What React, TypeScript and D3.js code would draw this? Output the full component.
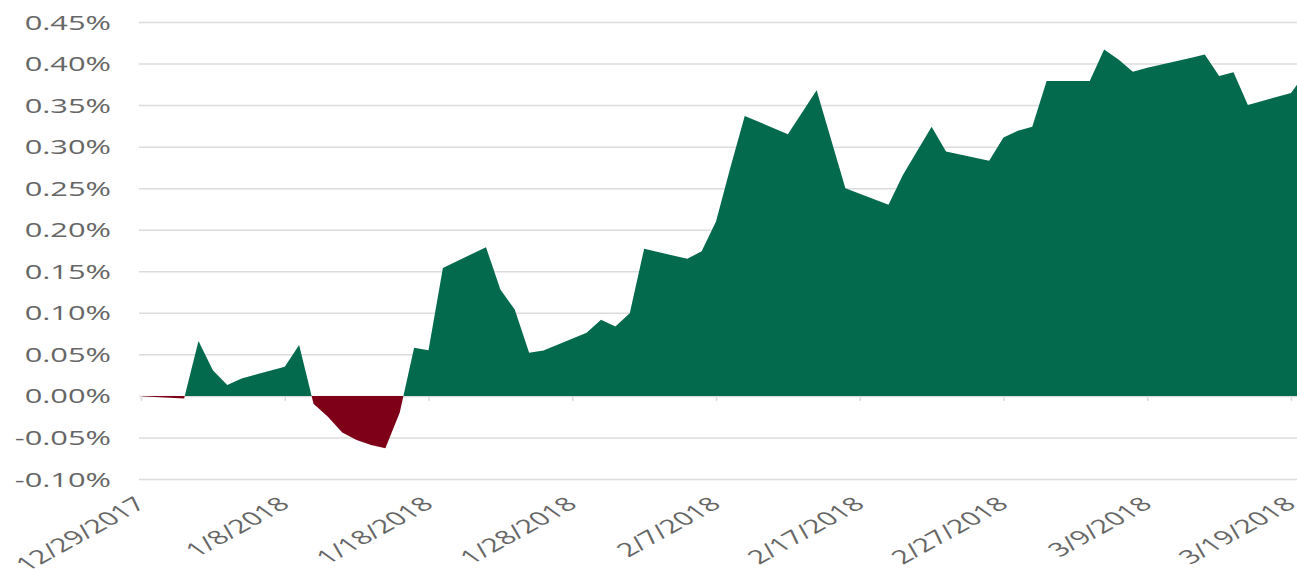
import React, { useEffect, useRef } from "react";
import * as d3 from "d3";

// Cumulative excess return (in %)
const DATES = [
  "12/29/2017", "1/1/2018", "1/2/2018", "1/3/2018", "1/4/2018", "1/5/2018",
  "1/8/2018", "1/9/2018", "1/10/2018", "1/11/2018", "1/12/2018", "1/13/2018",
  "1/14/2018", "1/15/2018", "1/16/2018", "1/17/2018", "1/18/2018", "1/19/2018",
  "1/22/2018", "1/23/2018", "1/24/2018", "1/25/2018", "1/26/2018", "1/29/2018",
  "1/30/2018", "1/31/2018", "2/1/2018", "2/2/2018", "2/5/2018", "2/6/2018",
  "2/7/2018", "2/8/2018", "2/9/2018", "2/12/2018", "2/14/2018", "2/16/2018",
  "2/19/2018", "2/20/2018", "2/22/2018", "2/23/2018", "2/26/2018", "2/27/2018",
  "2/28/2018", "3/1/2018", "3/2/2018", "3/5/2018", "3/6/2018", "3/7/2018",
  "3/8/2018", "3/9/2018", "3/12/2018", "3/13/2018", "3/14/2018", "3/15/2018",
  "3/16/2018", "3/19/2018", "3/20/2018",
];

const VALUES = [
  -0.0005, -0.003, 0.066, 0.031, 0.013, 0.021,
  0.035, 0.0614, -0.0093, -0.025, -0.044, -0.053,
  -0.059, -0.063, -0.02, 0.058, 0.055, 0.154,
  0.179, 0.128, 0.104, 0.052, 0.0546, 0.076,
  0.0916, 0.0835, 0.0996, 0.177, 0.165, 0.174,
  0.21, 0.275, 0.337, 0.315, 0.368, 0.25,
  0.23, 0.266, 0.324, 0.294, 0.283, 0.311,
  0.319, 0.324, 0.379, 0.379, 0.417, 0.405,
  0.39, 0.395, 0.4067, 0.411, 0.385, 0.3895,
  0.35, 0.3647, 0.388,
];

const X_TICKS = [
  "12/29/2017", "1/8/2018", "1/18/2018", "1/28/2018", "2/7/2018",
  "2/17/2018", "2/27/2018", "3/9/2018", "3/19/2018",
];

const Y_TICKS = [-0.1, -0.05, 0, 0.05, 0.1, 0.15, 0.2, 0.25, 0.3, 0.35, 0.4, 0.45];

const GREEN = "#036a4e";
const RED = "#7d0018";
const TEXT = "#666666";
const GRID = "#dcdcdc";

const W = 1297;
const H = 569;

export default function App() {
  const svgRef = useRef<SVGSVGElement>(null);

  useEffect(() => {
    if (!svgRef.current) return;
    const svg = d3.select(svgRef.current);
    svg.selectAll("*").remove();

    const parse = d3.timeParse("%m/%d/%Y");
    const data = DATES.map((d, i) => ({ date: parse(d) as Date, value: VALUES[i] }));

    const x = d3
      .scaleTime()
      .domain([parse("12/29/2017") as Date, parse("3/19/2018") as Date])
      .range([141, 1291]);
    const y = d3.scaleLinear().domain([-0.1, 0.45]).range([479, 22]);
    const left = 139;

    // gridlines + y labels
    const yAxis = d3
      .axisLeft(y)
      .tickValues(Y_TICKS)
      .tickSize(-(W - left))
      .tickPadding(28)
      .tickFormat((d) => `${(+d).toFixed(2)}%`);

    const gy = svg.append("g").attr("transform", `translate(${left},0)`).call(yAxis);
    gy.select(".domain").remove();
    gy.selectAll(".tick line").attr("stroke", GRID).attr("stroke-width", 1.5);
    gy.selectAll(".tick text")
      .attr("x", 0)
      .attr("dy", "0.36em")
      .attr("transform", "translate(-28,0) scale(1.58,1)")
      .attr("fill", TEXT)
      .attr("font-size", 19.5)
      .attr("font-family", "'Open Sans', sans-serif");

    // clip above / below zero
    const zeroY = y(0);
    const defs = svg.append("defs");
    defs.append("clipPath").attr("id", "above")
      .append("rect").attr("x", 0).attr("y", 0).attr("width", W).attr("height", zeroY);
    defs.append("clipPath").attr("id", "below")
      .append("rect").attr("x", 0).attr("y", zeroY).attr("width", W).attr("height", H - zeroY);

    const area = d3
      .area<{ date: Date; value: number }>()
      .x((d) => x(d.date))
      .y0(zeroY)
      .y1((d) => y(d.value));

    svg.append("path").datum(data).attr("d", area).attr("fill", GREEN).attr("clip-path", "url(#above)");
    svg.append("path").datum(data).attr("d", area).attr("fill", RED).attr("clip-path", "url(#below)");

    // x axis ticks + rotated labels
    const xAxis = d3
      .axisBottom(x)
      .tickValues(X_TICKS.map((t) => parse(t) as Date))
      .tickSize(5)
      .tickPadding(0)
      .tickFormat((d) => d3.timeFormat("%-m/%-d/%Y")(d as Date));

    const gx = svg.append("g").attr("transform", `translate(0,${zeroY})`).call(xAxis);
    gx.select(".domain").remove();
    gx.selectAll(".tick line").attr("stroke", GRID).attr("stroke-width", 1.5);
    gx.selectAll(".tick text")
      .attr("y", 0)
      .attr("dy", 0)
      .attr("text-anchor", "end")
      .attr("transform", "translate(6,110) scale(1.58,1) rotate(-41)")
      .attr("fill", TEXT)
      .attr("font-size", 19)
      .attr("font-family", "'Open Sans', sans-serif");
  }, []);

  return (
    <svg
      ref={svgRef}
      width={W}
      height={H}
      style={{ position: "absolute", left: 0, top: 0, background: "#fff" }}
    />
  );
}
